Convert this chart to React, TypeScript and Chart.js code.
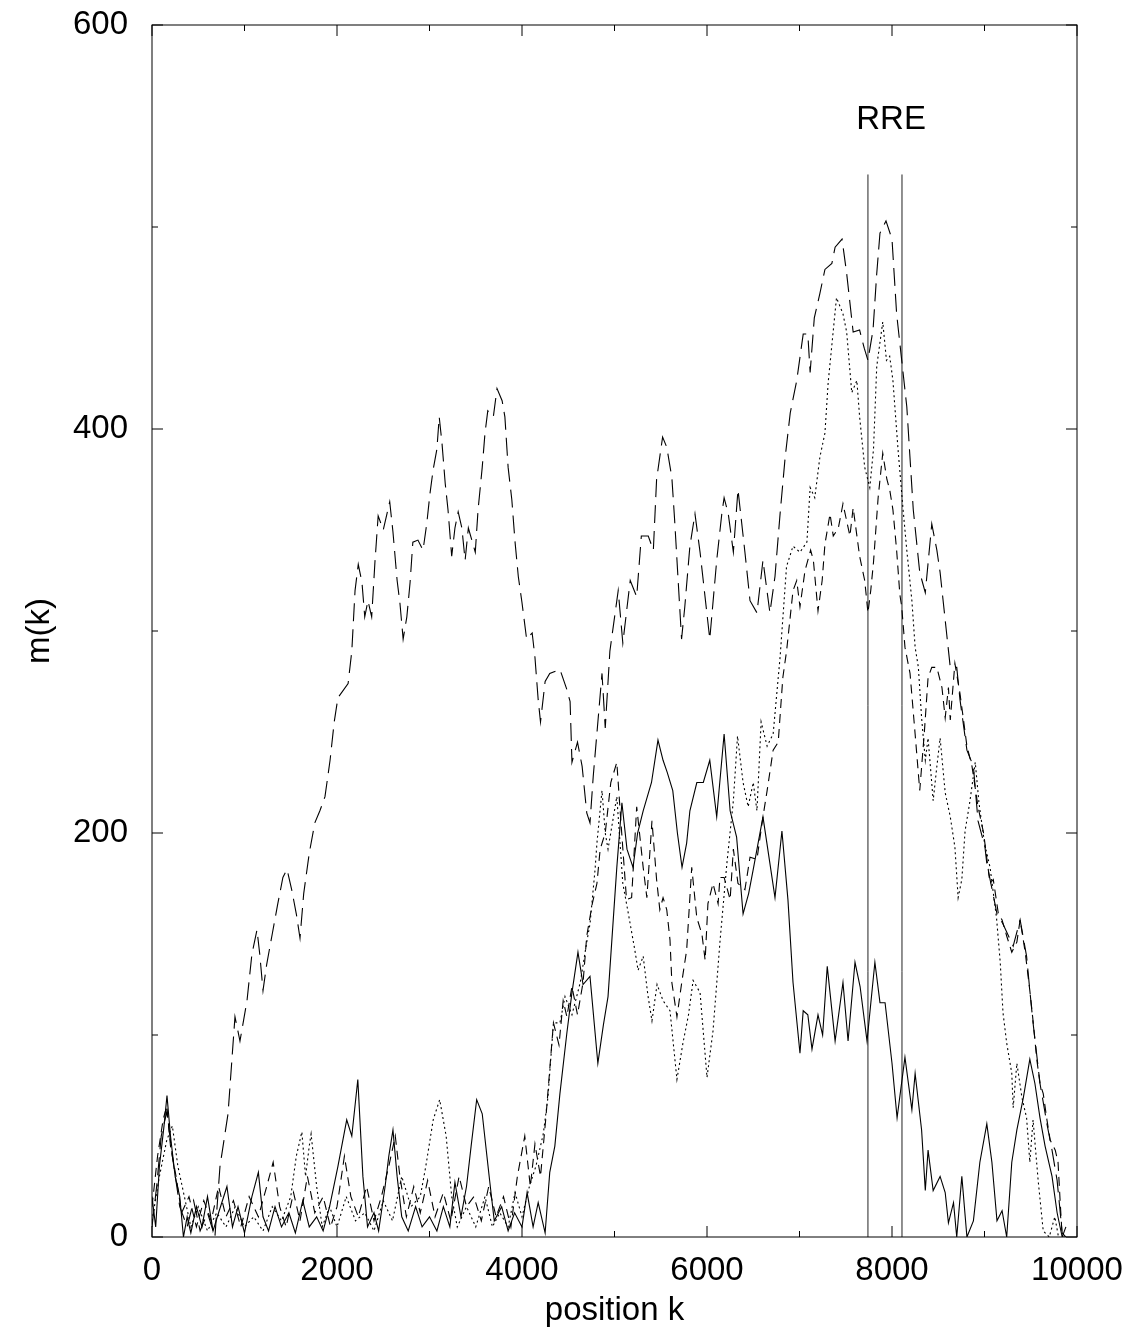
import React, { useEffect, useRef } from 'react';
import { Chart, registerables } from 'chart.js';

Chart.register(...registerables);

// [position k, m(k)]
const solidSeries: [number, number][] = [
  [0,20],[40,5],[80,35],[130,55],[162,70],[200,50],[250,30],[300,20],[340,0],[380,10],[420,2],[480,15],[540,5],[600,20],[660,3],[720,12],[810,25],[870,5],[930,15],[1000,2],[1080,20],[1150,32],[1200,10],[1260,3],[1330,15],[1400,5],[1480,12],[1550,2],[1630,18],[1700,5],[1780,10],[1850,3],[1920,15],[2010,35],[2105,58],[2160,50],[2225,78],[2280,30],[2330,5],[2400,12],[2450,3],[2520,25],[2560,40],[2605,53],[2650,30],[2700,10],[2770,3],[2850,15],[2920,5],[3000,10],[3080,3],[3150,15],[3220,5],[3275,27],[3340,10],[3400,25],[3450,45],[3510,68],[3570,61],[3650,28],[3700,8],[3780,15],[3850,3],[3920,12],[4000,5],[4055,22],[4120,5],[4175,17],[4250,2],[4300,32],[4355,45],[4410,71],[4485,101],[4540,121],[4605,141],[4660,125],[4735,129],[4820,86],[4880,105],[4930,119],[5025,183],[5080,215],[5135,192],[5200,183],[5250,200],[5310,211],[5400,225],[5470,246],[5525,236],[5570,230],[5630,221],[5680,200],[5730,183],[5780,195],[5815,211],[5890,225],[5960,225],[6030,236],[6105,208],[6185,249],[6250,211],[6320,198],[6390,160],[6450,170],[6500,182],[6605,208],[6680,185],[6735,168],[6810,201],[6875,167],[6930,126],[7005,91],[7040,112],[7090,110],[7135,93],[7200,110],[7250,100],[7300,134],[7385,97],[7470,126],[7525,97],[7600,136],[7655,124],[7730,97],[7815,136],[7870,116],[7925,116],[8000,86],[8055,59],[8140,89],[8215,63],[8250,81],[8320,53],[8360,23],[8390,43],[8445,23],[8520,30],[8575,22],[8610,7],[8665,17],[8700,0],[8755,30],[8810,0],[8880,8],[8950,37],[9025,56],[9080,37],[9135,8],[9190,13],[9240,0],[9295,37],[9350,53],[9420,69],[9490,88],[9545,76],[9600,59],[9655,45],[9730,30],[9785,12],[9840,0],[9880,5]
];

const longDashSeries: [number, number][] = [
  [0,5],[50,25],[100,50],[160,62],[220,40],[300,15],[380,5],[450,18],[520,3],[600,12],[680,0],[735,35],[822,61],[897,109],[951,97],[1027,117],[1080,140],[1135,152],[1165,140],[1200,122],[1240,135],[1300,150],[1360,165],[1415,178],[1460,182],[1510,172],[1560,160],[1600,148],[1640,170],[1700,190],[1760,205],[1815,211],[1870,218],[1925,236],[1970,255],[2010,267],[2120,274],[2160,290],[2195,320],[2230,333],[2270,324],[2300,307],[2335,315],[2375,307],[2410,334],[2445,357],[2500,350],[2540,358],[2570,364],[2605,349],[2650,325],[2680,314],[2715,296],[2755,307],[2790,324],[2820,344],[2875,345],[2930,340],[2970,353],[3005,368],[3040,380],[3080,390],[3105,406],[3135,393],[3170,373],[3200,360],[3240,337],[3275,351],[3310,359],[3350,351],[3385,335],[3420,351],[3495,339],[3525,360],[3570,381],[3600,398],[3630,409],[3690,406],[3730,420],[3785,414],[3815,406],[3850,381],[3890,365],[3925,344],[3960,327],[4000,314],[4050,296],[4110,299],[4140,287],[4175,266],[4200,255],[4250,275],[4300,279],[4410,281],[4485,271],[4520,265],[4540,235],[4600,245],[4650,233],[4700,210],[4735,205],[4770,228],[4865,279],[4900,252],[4950,290],[5040,320],[5090,294],[5170,325],[5240,317],[5290,347],[5365,347],[5420,340],[5455,375],[5520,396],[5565,391],[5620,376],[5650,355],[5725,296],[5760,312],[5815,342],[5870,358],[5925,339],[6030,296],[6105,335],[6160,358],[6185,366],[6230,358],[6285,339],[6335,370],[6410,339],[6465,315],[6540,309],[6605,335],[6680,309],[6735,327],[6790,358],[6845,386],[6900,408],[6970,424],[7040,447],[7090,447],[7115,428],[7160,455],[7220,467],[7275,479],[7350,482],[7385,490],[7460,494],[7510,477],[7580,448],[7650,449],[7700,440],[7740,434],[7795,449],[7835,477],[7870,497],[7935,503],[8000,494],[8050,457],[8105,434],[8160,411],[8230,360],[8300,329],[8360,319],[8430,353],[8485,340],[8520,329],[8590,299],[8630,282],[8700,282],[8735,266],[8810,241],[8880,233],[8930,206],[9005,193],[9025,185],[9135,160],[9200,155],[9310,144],[9385,157],[9455,139],[9490,122],[9525,106],[9600,76],[9675,56],[9730,43],[9785,28],[9840,2],[9880,0]
];

const shortDashSeries: [number, number][] = [
  [0,15],[60,40],[120,58],[160,65],[200,45],[260,30],[320,12],[400,20],[480,5],[560,18],[640,8],[720,25],[800,10],[880,18],[960,5],[1050,20],[1150,10],[1240,25],[1310,37],[1380,15],[1450,5],[1530,22],[1600,8],[1680,30],[1760,12],[1850,20],[1930,5],[2000,15],[2080,40],[2150,20],[2230,10],[2320,25],[2400,8],[2480,20],[2560,35],[2630,50],[2680,30],[2750,10],[2830,25],[2900,12],[2980,28],[3060,10],[3150,22],[3230,8],[3320,30],[3400,15],[3480,20],[3560,8],[3640,25],[3720,10],[3800,20],[3880,5],[3950,30],[4030,50],[4090,25],[4140,46],[4200,30],[4260,60],[4340,106],[4400,95],[4445,117],[4485,109],[4540,124],[4600,110],[4660,126],[4700,149],[4760,165],[4810,175],[4845,192],[4900,200],[4960,225],[5025,235],[5070,205],[5130,167],[5185,168],[5240,213],[5310,183],[5350,168],[5405,206],[5455,177],[5490,162],[5525,168],[5565,162],[5600,147],[5620,126],[5675,109],[5730,127],[5780,142],[5835,183],[5890,158],[5945,150],[5980,137],[6010,165],[6065,175],[6120,165],[6140,178],[6185,178],[6250,167],[6285,192],[6335,175],[6410,172],[6465,188],[6540,187],[6605,208],[6650,221],[6715,241],[6770,245],[6820,277],[6860,290],[6930,320],[6970,325],[7005,312],[7060,330],[7120,340],[7150,335],[7200,310],[7245,325],[7275,343],[7330,358],[7365,347],[7420,351],[7470,363],[7545,347],[7580,361],[7650,337],[7705,325],[7740,309],[7770,320],[7800,334],[7850,366],[7900,388],[7945,375],[7975,370],[8010,360],[8050,340],[8085,318],[8105,312],[8140,292],[8195,279],[8250,249],[8300,221],[8350,250],[8390,277],[8430,282],[8485,282],[8540,272],[8575,257],[8610,272],[8630,256],[8680,284],[8735,269],[8770,257],[8810,243],[8865,233],[8930,213],[8990,200],[9060,175],[9095,177],[9150,160],[9190,157],[9240,149],[9295,141],[9350,146],[9385,157],[9440,141],[9490,122],[9525,107],[9565,88],[9600,76],[9635,71],[9675,58],[9710,48],[9765,43],[9795,37],[9815,20],[9840,0],[9870,0]
];

const dottedSeries: [number, number][] = [
  [0,8],[80,30],[160,48],[220,55],[280,35],[350,20],[420,5],[500,15],[600,3],[700,12],[800,5],[900,15],[1000,5],[1100,10],[1200,3],[1300,15],[1400,8],[1500,20],[1560,40],[1620,52],[1660,30],[1700,45],[1720,51],[1780,25],[1840,5],[1920,15],[2000,5],[2100,20],[2200,8],[2300,12],[2400,3],[2500,18],[2600,8],[2700,30],[2800,15],[2900,20],[2960,35],[3040,58],[3110,68],[3180,50],[3240,20],[3300,5],[3400,15],[3500,5],[3600,20],[3680,5],[3760,12],[3850,5],[3925,22],[4000,10],[4080,25],[4150,35],[4230,51],[4280,69],[4340,106],[4410,106],[4465,119],[4540,110],[4630,126],[4700,146],[4735,155],[4790,182],[4810,195],[4865,221],[4900,200],[4930,192],[5025,218],[5090,175],[5150,160],[5220,142],[5255,132],[5310,139],[5360,120],[5405,107],[5460,125],[5525,117],[5600,112],[5675,78],[5740,96],[5800,110],[5850,127],[5925,121],[6000,79],[6065,102],[6140,146],[6215,185],[6285,216],[6330,248],[6390,225],[6445,213],[6500,225],[6540,211],[6585,255],[6650,243],[6715,249],[6790,287],[6860,332],[6930,342],[7005,339],[7080,344],[7115,371],[7165,366],[7220,386],[7275,398],[7310,423],[7400,465],[7470,457],[7510,448],[7565,418],[7620,424],[7650,406],[7705,381],[7760,371],[7800,390],[7835,431],[7900,453],[7940,434],[7975,436],[8010,424],[8065,390],[8120,360],[8160,340],[8215,315],[8250,292],[8285,282],[8320,257],[8360,236],[8390,247],[8445,216],[8485,233],[8520,247],[8575,220],[8630,208],[8680,193],[8715,168],[8755,177],[8790,201],[8840,215],[8900,235],[8940,215],[9000,195],[9060,183],[9130,158],[9170,136],[9200,111],[9240,96],[9295,81],[9310,64],[9350,86],[9405,69],[9455,59],[9490,37],[9525,58],[9580,28],[9635,3],[9700,0],[9760,10],[9800,0]
];

const rreLinesK = [7740, 8108];
const rreLineTop = 526;
const rreLabel = 'RRE';
const rreLabelK = 7990;
const rreLabelM = 553;

const xLabelValues = [0, 2000, 4000, 6000, 8000, 10000];
const yLabelValues = [0, 200, 400, 600];
const xTitle = 'position k';
const yTitle = 'm(k)';

const FONT = '"Liberation Sans", Arial, Helvetica, sans-serif';
const FONT_SIZE = 33;

const framePlugin = {
  id: 'gnuframe',
  afterDatasetsDraw(chart: any) {
    const { ctx, chartArea: a, scales } = chart;
    const x = scales.x;
    const y = scales.y;
    ctx.save();
    ctx.strokeStyle = '#000';
    ctx.lineWidth = 1;
    ctx.strokeRect(a.left, a.top, a.right - a.left, a.bottom - a.top);
    ctx.beginPath();
    y.ticks.forEach((t: any) => {
      const py = y.getPixelForValue(t.value);
      const len = yLabelValues.includes(t.value) ? 11 : 6;
      ctx.moveTo(a.left, py); ctx.lineTo(a.left + len, py);
      ctx.moveTo(a.right, py); ctx.lineTo(a.right - len, py);
    });
    x.ticks.forEach((t: any) => {
      const px = x.getPixelForValue(t.value);
      const len = xLabelValues.includes(t.value) ? 11 : 6;
      ctx.moveTo(px, a.bottom); ctx.lineTo(px, a.bottom - len);
      ctx.moveTo(px, a.top); ctx.lineTo(px, a.top + len);
    });
    ctx.stroke();
    ctx.fillStyle = '#000';
    ctx.font = `${FONT_SIZE}px ${FONT}`;
    ctx.textAlign = 'center';
    ctx.textBaseline = 'middle';
    ctx.fillText(rreLabel, x.getPixelForValue(rreLabelK), y.getPixelForValue(rreLabelM));
    ctx.restore();
  },
};

export default function App() {
  const ref = useRef<HTMLCanvasElement>(null);
  useEffect(() => {
    if (!ref.current) return;
    const toPts = (s: [number, number][]) => s.map(([k, m]) => ({ x: k, y: m }));
    const base = { borderColor: '#000', borderWidth: 1.1, pointRadius: 0, fill: false, tension: 0 };
    const datasets: any[] = [
      { ...base, label: 'solid', data: toPts(solidSeries) },
      { ...base, label: 'long dash', data: toPts(longDashSeries), borderDash: [18, 8] },
      { ...base, label: 'short dash', data: toPts(shortDashSeries), borderDash: [9, 6] },
      { ...base, label: 'dotted', data: toPts(dottedSeries), borderDash: [2, 3] },
      ...rreLinesK.map((k) => ({ ...base, label: 'RRE', borderColor: '#222', borderWidth: 1, data: [{ x: k, y: 0 }, { x: k, y: rreLineTop }] })),
    ];
    const font = { family: FONT, size: FONT_SIZE };
    const chart = new Chart(ref.current, {
      type: 'line',
      data: { datasets },
      options: {
        responsive: false,
        animation: false,
        devicePixelRatio: 1,
        layout: { padding: { left: 0, top: 25, right: 69, bottom: 0 } },
        plugins: { legend: { display: false }, tooltip: { enabled: false } },
        scales: {
          x: {
            type: 'linear', position: 'bottom', min: 0, max: 10000,
            grid: { display: false, drawTicks: false }, border: { display: false },
            ticks: {
              stepSize: 1000, autoSkip: false, maxRotation: 0, color: '#000', font, padding: 14,
              callback: (v: any) => (xLabelValues.includes(v) ? String(v) : ''),
            },
            title: { display: true, text: xTitle, color: '#000', font, padding: { top: 0, bottom: 2 } },
            afterFit: (s: any) => { s.height = 96; s.paddingLeft = 0; s.paddingRight = 0; },
          },
          y: {
            type: 'linear', position: 'left', min: 0, max: 600,
            grid: { display: false, drawTicks: false }, border: { display: false },
            ticks: {
              stepSize: 100, autoSkip: false, color: '#000', font, padding: 24,
              callback: (v: any) => (yLabelValues.includes(v) ? String(v) : ''),
            },
            title: { display: true, text: yTitle, color: '#000', font, padding: { top: 20, bottom: 0 } },
            afterFit: (s: any) => { s.width = 152; s.paddingTop = 0; s.paddingBottom = 0; },
          },
        },
      } as any,
      plugins: [framePlugin],
    });
    return () => chart.destroy();
  }, []);
  return (
    <div style={{ position: 'absolute', left: 0, top: 0, width: 1146, height: 1333, background: '#fff' }}>
      <canvas ref={ref} width={1146} height={1333} style={{ display: 'block' }} />
    </div>
  );
}
